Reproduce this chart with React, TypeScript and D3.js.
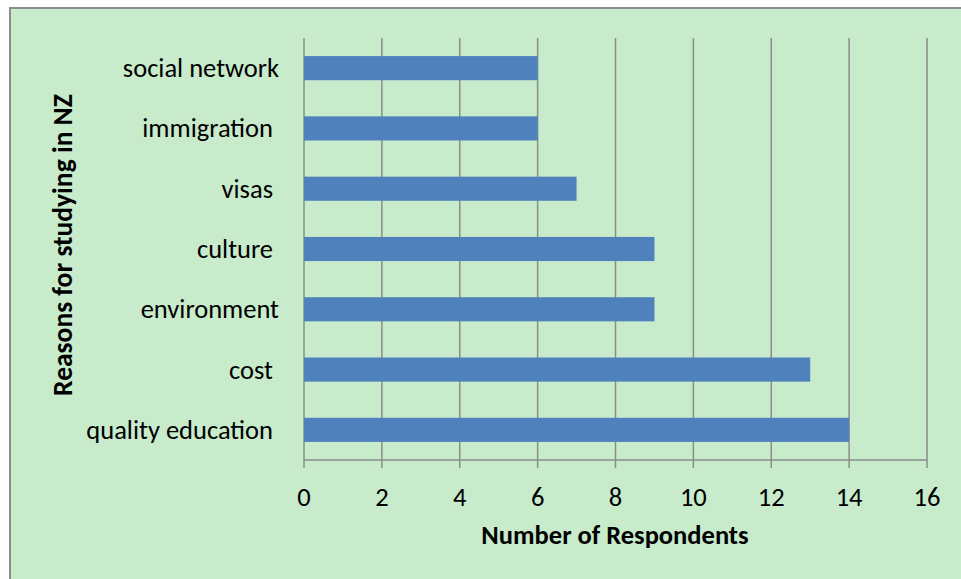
import React from "react";
import * as d3 from "d3";

const categories = ["social network", "immigration ", "visas ", "culture ", "environment", "cost ", "quality education "];
const values = [6, 6, 7, 9, 9, 13, 14];
const xTicks = [0, 2, 4, 6, 8, 10, 12, 14, 16];

export default function App() {
  const W = 961, H = 579;
  const left = 304, right = 927, top = 38, bottom = 460;
  const x = d3.scaleLinear().domain([0, 16]).range([left, right]);
  const y = d3.scaleBand<string>().domain(categories).range([top, bottom]).paddingInner(0.6).paddingOuter(0.3);
  const font = "Carlito, Calibri, Lato, sans-serif";
  const fs = 26.5;
  return (
    <svg width={W} height={H} style={{ position: "absolute", left: 0, top: 0, background: "#fff" }} fontFamily={font}>
      <rect x={10} y={8} width={W} height={H} fill="#C7EBCB" stroke="#8C8C8C" strokeWidth={2} />
      {xTicks.map((t) => (
        <line key={"g" + t} x1={x(t)} x2={x(t)} y1={top} y2={bottom + 8} stroke="#8C8C8C" strokeWidth={1.5} />
      ))}
      <line x1={left} x2={right} y1={bottom} y2={bottom} stroke="#8C8C8C" strokeWidth={1.5} />
      {categories.map((c, i) => (
        <rect key={c} x={x(0)} y={y(c)!} width={x(values[i]) - x(0)} height={y.bandwidth()} fill="#4F81BD" />
      ))}
      {categories.map((c) => (
        <text key={"l" + c} x={279} y={y(c)! + y.bandwidth() / 2} textAnchor="end" dominantBaseline="central" fontSize={fs} fill="#000" style={{ whiteSpace: "pre" }}>
          {c}
        </text>
      ))}
      {xTicks.map((t) => (
        <text key={"t" + t} x={x(t)} y={497} textAnchor="middle" dominantBaseline="central" fontSize={fs} fill="#000">
          {t}
        </text>
      ))}
      <text x={615} y={535} textAnchor="middle" dominantBaseline="central" fontSize={fs} fontWeight="bold" fill="#000">
        Number of Respondents
      </text>
      <text transform="translate(62,245) rotate(-90)" textAnchor="middle" dominantBaseline="central" fontSize={27.5} fontWeight="bold" fill="#000">
        Reasons for studying in NZ
      </text>
    </svg>
  );
}
